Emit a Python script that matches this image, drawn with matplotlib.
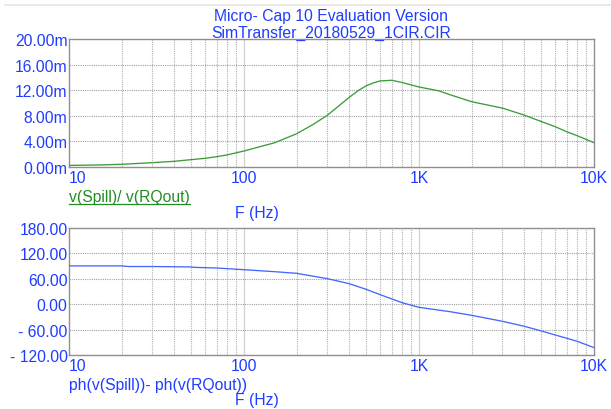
import matplotlib
matplotlib.use("Agg")
import matplotlib.pyplot as plt
from matplotlib.lines import Line2D
from matplotlib.transforms import blended_transform_factory
import numpy as np

# Frequency sweep (Hz)
freq = [10, 15, 20, 30, 40, 50, 60, 70, 80, 100, 150, 200, 250, 300, 350, 400,
        450, 500, 550, 600, 700, 800, 1000, 1300, 1500, 2000, 3000, 4000, 5000,
        6000, 7000, 8000, 10000]
# Transfer magnitude v(Spill)/v(RQout), in milli-units
mag_m = [0.25, 0.32, 0.42, 0.68, 0.89, 1.15, 1.36, 1.62, 1.88, 2.5, 3.8, 5.2,
         6.7, 8.1, 9.6, 10.9, 11.95, 12.7, 13.15, 13.45, 13.55, 13.2, 12.5,
         11.9, 11.3, 10.2, 9.2, 8.1, 7.1, 6.3, 5.5, 4.9, 3.8]

freq_ph = [10, 20, 22, 30, 50, 52, 70, 100, 150, 200, 300, 400, 500, 600, 700,
           800, 1000, 1500, 2000, 3000, 4000, 5000, 6000, 7000, 8000, 10000]
# Phase difference ph(v(Spill)) - ph(v(RQout)), degrees
phase = [90.5, 90.5, 89.0, 89.0, 88.0, 87.0, 85.5, 81.5, 76.8, 72.9, 60.3,
         48.4, 35.0, 22.5, 12.3, 3.6, -7.4, -17.6, -26.3, -40.4, -52.2, -63.2,
         -72.7, -80.5, -87.6, -102.5]

x_ticks = [10, 100, 1000, 10000]
x_ticklabels = ["10", "100", "1K", "10K"]
mag_ticks = [0, 4, 8, 12, 16, 20]
mag_ticklabels = ["0.00m", "4.00m", "8.00m", "12.00m", "16.00m", "20.00m"]
ph_ticks = [-120, -60, 0, 60, 120, 180]
ph_ticklabels = ["- 120.00", "- 60.00", "0.00", "60.00", "120.00", "180.00"]

title_lines = ["Micro- Cap 10 Evaluation Version", "SimTransfer_20180529_1CIR.CIR"]
mag_label = "v(Spill)/ v(RQout)"
ph_label = "ph(v(Spill))- ph(v(RQout))"
x_label = "F (Hz)"

TEXT_BLUE = "#1f3cff"
MAG_GREEN = "#3c9c3c"
LABEL_GREEN = "#238c23"
PH_BLUE = "#4666ff"
FRAME = "#8f8f8f"
FONT = "Liberation Sans"
FS = 11.3

W, H = 611, 410
fig = plt.figure(figsize=(W / 100, H / 100), dpi=100)
fig.patch.set_facecolor("white")


def px_box(left, top, right, bottom):
    return [left / W, 1 - bottom / H, (right - left) / W, (bottom - top) / H]


def style_axes(ax, yticks, yticklabels, ylim):
    ax.set_xscale("log")
    ax.set_xlim(10, 10000)
    ax.set_ylim(*ylim)
    ax.set_yticks(yticks)
    ax.set_yticklabels(yticklabels, fontsize=FS, color=TEXT_BLUE, family=FONT)
    ax.tick_params(axis="y", length=0, pad=1)
    ax.tick_params(axis="x", which="both", length=0, labelbottom=False)
    for s in ax.spines.values():
        s.set_color(FRAME)
        s.set_linewidth(1.0)
    # decade lines solid, sub-decade lines dotted
    for d in x_ticks[1:-1]:
        ax.axvline(d, color="#d2d2d2", lw=0.9, zorder=1)
    for dec in [10, 100, 1000]:
        for k in range(2, 10):
            ax.axvline(dec * k, color="#b0b0b0", lw=0.8,
                       ls=(0, (1, 1)), zorder=1)
    for yv in yticks[1:-1]:
        ax.axhline(yv, color="#a0a0a0", lw=0.8, ls=(0, (1, 1)), zorder=1)
    tr = blended_transform_factory(ax.transData, ax.transAxes)
    for i, (xv, lab) in enumerate(zip(x_ticks, x_ticklabels)):
        ha = "left" if i == 0 else "center"
        ax.text(xv, -0.025, lab, transform=tr, ha=ha, va="top",
                fontsize=FS, color=TEXT_BLUE, family=FONT, clip_on=False)


ax1 = fig.add_axes(px_box(69, 40, 594, 168))
style_axes(ax1, mag_ticks, mag_ticklabels, (0, 20))
ax1.plot(freq, mag_m, color=MAG_GREEN, lw=0.95, zorder=3)

ax2 = fig.add_axes(px_box(69, 229, 594, 356))
style_axes(ax2, ph_ticks, ph_ticklabels, (-120, 180))
ax2.plot(freq_ph, phase, color=PH_BLUE, lw=0.95, zorder=3)

# title
fig.text(331.5 / W, 1 - 17 / H, title_lines[0], ha="center", va="center",
         fontsize=FS, color=TEXT_BLUE, family=FONT)
fig.text(331.5 / W, 1 - 33 / H, title_lines[1], ha="center", va="center",
         fontsize=FS, color=TEXT_BLUE, family=FONT)

# trace labels and axis titles
t_mag = fig.text(69 / W, 1 - 198 / H, mag_label, ha="left", va="center",
                 fontsize=FS, color=LABEL_GREEN, family=FONT)
fig.text(257 / W, 1 - 214 / H, x_label, ha="center", va="center",
         fontsize=FS, color=TEXT_BLUE, family=FONT)
fig.text(69 / W, 1 - 386 / H, ph_label, ha="left", va="center",
         fontsize=FS, color=TEXT_BLUE, family=FONT)
fig.text(257 / W, 1 - 401 / H, x_label, ha="center", va="center",
         fontsize=FS, color=TEXT_BLUE, family=FONT)

# underline under the magnitude trace label
fig.canvas.draw()
bb = t_mag.get_window_extent()
fig.add_artist(Line2D([bb.x0 / W, bb.x1 / W], [1 - 205 / H, 1 - 205 / H],
                      transform=fig.transFigure, color=LABEL_GREEN, lw=0.9))

# thin window rule along the top edge
fig.add_artist(Line2D([5 / W, 1.0], [1 - 5.5 / H, 1 - 5.5 / H],
                      transform=fig.transFigure, color="#e6e6e6", lw=1.2))

fig.savefig("out.png", dpi=100, facecolor="white")
